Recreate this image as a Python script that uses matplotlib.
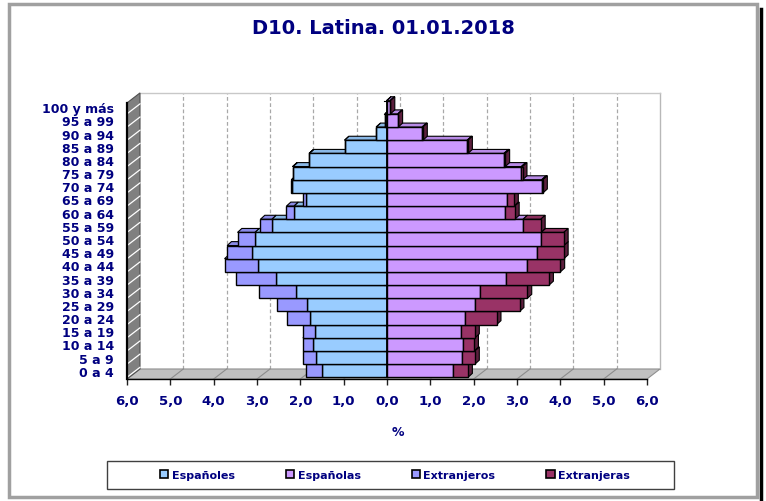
import matplotlib
matplotlib.use("Agg")
import matplotlib.pyplot as plt
from matplotlib.patches import Rectangle, Polygon, Patch
from matplotlib.lines import Line2D
import numpy as np

# ---------------- data ----------------
categories = ["0 a 4", "5 a 9", "10 a 14", "15 a 19", "20 a 24", "25 a 29",
              "30 a 34", "35 a 39", "40 a 44", "45 a 49", "50 a 54", "55 a 59",
              "60 a 64", "65 a 69", "70 a 74", "75 a 79", "80 a 84", "85 a 89",
              "90 a 94", "95 a 99", "100 y más"]
espanoles = [1.50, 1.65, 1.71, 1.67, 1.77, 1.84, 2.10, 2.56, 2.98, 3.11, 3.05,
             2.66, 2.15, 1.86, 2.19, 2.17, 1.79, 0.98, 0.25, 0.05, 0.01]
extranjeros = [0.37, 0.28, 0.23, 0.28, 0.54, 0.71, 0.85, 0.92, 0.77, 0.58, 0.40,
               0.26, 0.17, 0.09, 0.02, 0.01, 0.01, 0.00, 0.00, 0.00, 0.00]
espanolas = [1.52, 1.74, 1.76, 1.71, 1.81, 2.02, 2.14, 2.75, 3.23, 3.46, 3.56,
             3.14, 2.72, 2.78, 3.57, 3.10, 2.70, 1.85, 0.81, 0.25, 0.07]
extranjeras = [0.35, 0.29, 0.25, 0.32, 0.72, 1.04, 1.10, 0.99, 0.77, 0.62, 0.52,
               0.41, 0.23, 0.15, 0.03, 0.03, 0.03, 0.02, 0.02, 0.01, 0.01]
xticks = [-6, -5, -4, -3, -2, -1, 0, 1, 2, 3, 4, 5, 6]
xtick_labels = [f"{abs(v):.1f}".replace(".", ",") for v in xticks]
series_names = ["Españoles", "Españolas", "Extranjeros", "Extranjeras"]
title = "D10. Latina. 01.01.2018"

# ---------------- style ----------------
NAVY = "#000080"
C_ESPM = "#99CCFF"
C_EXTM = "#9999FF"
C_ESPF = "#CC99FF"
C_EXTF = "#993366"
FONT = "DejaVu Sans"


def shade(c, f):
    r, g, b = matplotlib.colors.to_rgb(c)
    return (r * f, g * f, b * f)


W, H = 766, 502
fig = plt.figure(figsize=(W / 100, H / 100), dpi=100)
fig.patch.set_facecolor("white")


def fx(px):
    return px / W


def fy(py):
    return 1 - py / H


ax = fig.add_axes([fx(127), fy(380), (647 - 127) / W, (380 - 93) / H])
ax.set_xlim(-6, 6)
yb = -0.63
ax.set_ylim(yb, 21.16)
ax.set_facecolor("none")

# depth offsets (data units)
dxw, dyw = 0.30, 0.76   # walls
dxb, dyb = 0.10, 0.30   # bars
ytop_back = 21.09
ytop_front = ytop_back - dyw

# back wall gridlines
for k in range(-5, 6):
    ax.plot([k + dxw, k + dxw], [yb + dyw, ytop_back], color="#a8a8a8",
            lw=0.9, ls=(0, (3, 2)), zorder=1, clip_on=False)
# right edge and top line of back wall
ax.plot([6 + dxw, 6 + dxw], [yb + dyw, ytop_back], color="#b8b8b8", lw=1.0,
        zorder=1, clip_on=False)
ax.plot([-6 + dxw, 6 + dxw], [ytop_back, ytop_back], color="#c8c8c8", lw=1.0,
        zorder=1, clip_on=False)

# floor
floor = Polygon([(-6, yb), (6, yb), (6 + dxw, yb + dyw), (-6 + dxw, yb + dyw)],
                closed=True, facecolor="#c0c0c0", edgecolor="#909090", lw=0.8,
                zorder=1.5, clip_on=False)
ax.add_patch(floor)
for k in range(-5, 6):
    ax.plot([k, k + dxw], [yb, yb + dyw], color="#8c8c8c", lw=0.8, zorder=1.6,
            clip_on=False)

# left wall
wall = Polygon([(-6, yb), (-6, ytop_front), (-6 + dxw, ytop_back),
                (-6 + dxw, yb + dyw)], closed=True, facecolor="#808080",
               edgecolor="#505050", lw=0.8, zorder=1.5, clip_on=False)
ax.add_patch(wall)
for j in range(len(categories)):
    y = j - 0.5
    ax.plot([-6, -6 + dxw], [y, y + dyw], color="white", lw=0.9, zorder=1.7,
            clip_on=False)
ax.plot([-6, -6], [yb, ytop_front], color="black", lw=1.6, zorder=1.8,
        clip_on=False)


def bar3d(x0, x1, y0, y1, color, side, z):
    lo, hi = min(x0, x1), max(x0, x1)
    top = Polygon([(lo, y1), (hi, y1), (hi + dxb, y1 + dyb), (lo + dxb, y1 + dyb)],
                  closed=True, facecolor=shade(color, 0.9), edgecolor="black",
                  lw=0.8, zorder=z, clip_on=False)
    ax.add_patch(top)
    if side:
        sd = Polygon([(hi, y0), (hi + dxb, y0 + dyb), (hi + dxb, y1 + dyb), (hi, y1)],
                     closed=True, facecolor=shade(color, 0.6), edgecolor="black",
                     lw=0.8, zorder=z, clip_on=False)
        ax.add_patch(sd)
    front = Rectangle((lo, y0), hi - lo, y1 - y0, facecolor=color,
                      edgecolor="black", lw=1.0, zorder=z + 0.005, clip_on=False)
    ax.add_patch(front)


for i in range(len(categories)):
    y0, y1 = i - 0.5, i + 0.5
    z = 3 + i * 0.01
    a, b = espanoles[i], extranjeros[i]
    c, d = espanolas[i], extranjeras[i]
    bar3d(0, -a, y0, y1, C_ESPM, False, z)
    bar3d(-a, -(a + b), y0, y1, C_EXTM, False, z)
    bar3d(0, c, y0, y1, C_ESPF, False, z)
    bar3d(c, c + d, y0, y1, C_EXTF, True, z)

# category axis at zero
ax.plot([0, 0], [-0.5, len(categories) - 0.5], color="black", lw=1.3, zorder=4)
for j in range(len(categories) + 1):
    ax.plot([-0.08, 0], [j - 0.5, j - 0.5], color="black", lw=0.8, zorder=4)

# axes / ticks
for s in ["left", "right", "top"]:
    ax.spines[s].set_visible(False)
ax.spines["bottom"].set_color("black")
ax.spines["bottom"].set_linewidth(1.0)
ax.spines["bottom"].set_zorder(5)
ax.set_xticks(xticks)
ax.set_xticklabels(xtick_labels)
ax.tick_params(axis="x", direction="out", length=4, width=1, color="#202020",
               pad=7, labelsize=9.5, labelcolor=NAVY)
ax.set_yticks(range(len(categories)))
ax.set_yticklabels(categories)
ax.tick_params(axis="y", length=0, pad=9.5, labelsize=9, labelcolor=NAVY)
for lab in ax.get_xticklabels() + ax.get_yticklabels():
    lab.set_fontweight("bold")
    lab.set_family(FONT)

# title and axis label
fig.text(fx(383), fy(28), title, ha="center", va="center", fontsize=14,
         fontweight="bold", color=NAVY, family=FONT)
fig.text(fx(398), fy(433), "%", ha="center", va="center", fontsize=9,
         fontweight="bold", color=NAVY, family=FONT)

# legend
handles = [Patch(facecolor=C_ESPM, edgecolor="black", lw=1.2),
           Patch(facecolor=C_ESPF, edgecolor="black", lw=1.2),
           Patch(facecolor=C_EXTM, edgecolor="black", lw=1.2),
           Patch(facecolor=C_EXTF, edgecolor="black", lw=1.2)]
leg = fig.legend(handles, series_names, loc="center",
                 bbox_to_anchor=(fx(395), fy(476)), ncol=4, frameon=False,
                 prop={"family": FONT, "weight": "bold", "size": 8},
                 labelcolor=NAVY, handlelength=0.75, handleheight=0.75,
                 handletextpad=0.3, columnspacing=4.6, borderaxespad=0)
fig.patches.append(Rectangle((fx(107), fy(490)), (674 - 107) / W, (490 - 462) / H,
                             transform=fig.transFigure, facecolor="none",
                             edgecolor="#404040", lw=1.0, zorder=0))

# outer chart border with shadow
fig.patches.append(Rectangle((fx(9), fy(498)), (757 - 9) / W, (498 - 5) / H,
                             transform=fig.transFigure, facecolor="none",
                             edgecolor="#a0a0a0", lw=2.5, zorder=0))
fig.lines.append(Line2D([fx(761), fx(761)], [fy(10), fy(502)],
                        transform=fig.transFigure, color="black", lw=2.5))

fig.savefig("out.png", dpi=100)
